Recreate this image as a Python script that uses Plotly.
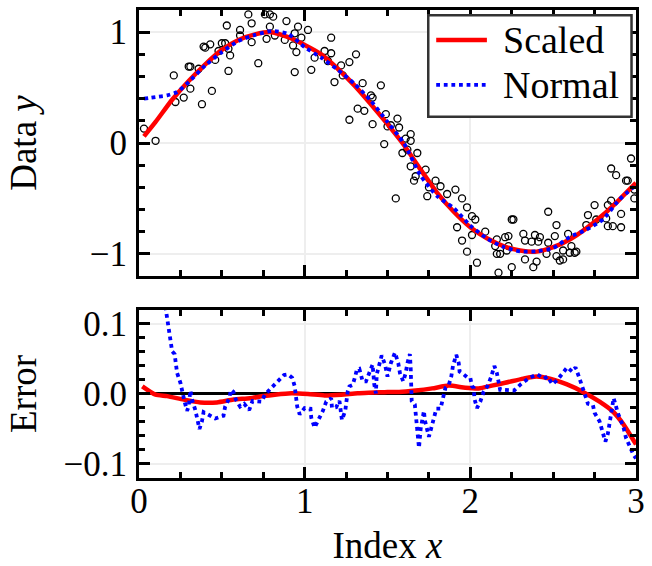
import plotly.graph_objects as go

# ---- observed samples -------------------------------------------------------
obs_x = [0.03, 0.10, 0.21, 0.22, 0.27, 0.30, 0.31, 0.31, 0.36, 0.38, 0.39, 0.40, 0.43, 0.44,
         0.46, 0.48, 0.50, 0.52, 0.53, 0.54, 0.55, 0.54, 0.61, 0.61, 0.66, 0.68, 0.68, 0.72,
         0.76, 0.79, 0.81, 0.79, 0.77, 0.82, 0.89, 0.88, 0.93, 0.95, 0.94, 0.94, 0.96, 0.98,
         1.02, 1.04, 1.06, 1.12, 1.14, 1.16, 1.16, 1.18, 1.22, 1.23, 1.27, 1.31, 1.35, 1.32,
         1.36, 1.27, 1.40, 1.41, 1.41, 1.46, 1.48, 1.50, 1.49, 1.56, 1.57, 1.61, 1.64, 1.64,
         1.59, 1.62, 1.68, 1.64, 1.67, 1.66, 1.73, 1.75, 1.74, 1.79, 1.82, 1.86, 1.55, 1.91,
         1.95, 1.98, 2.01, 2.03, 1.92, 2.01, 1.95, 1.98, 2.09, 2.04, 2.16, 2.21, 2.15, 2.16,
         2.18, 2.23, 2.17, 2.25, 2.26, 2.23, 2.22, 2.25, 2.32, 2.33, 2.37, 2.39, 2.41, 2.42,
         2.33, 2.40, 2.38, 2.47, 2.47, 2.46, 2.52, 2.51, 2.52, 2.54, 2.56, 2.56, 2.59, 2.61,
         2.60, 2.63, 2.64, 2.71, 2.70, 2.75, 2.76, 2.82, 2.83, 2.83, 2.85, 2.86, 2.91, 2.91,
         2.85, 2.88, 2.94, 2.95, 2.97, 2.99, 2.99, 1.52]
obs_y = [0.13, 0.02, 0.61, 0.37, 0.41, 0.69, 0.69, 0.49, 0.67, 0.35, 0.87, 0.86, 0.89, 0.47,
         0.75, 0.83, 0.90, 0.90, 1.06, 0.65, 0.79, 0.85, 0.97, 1.02, 1.16, 1.08, 0.91, 0.72,
         1.16, 1.16, 1.14, 1.05, 0.94, 0.97, 1.10, 0.93, 0.88, 0.82, 0.64, 0.99, 1.05, 0.95,
         1.02, 0.66, 0.77, 0.83, 0.74, 0.95, 0.81, 0.55, 0.70, 0.61, 0.73, 0.80, 0.54, 0.31,
         0.29, 0.21, 0.43, 0.41, 0.17, 0.52, -0.01, 0.15, 0.26, 0.22, 0.14, 0.04, 0.08, 0.02,
         -0.09, -0.06, -0.09, -0.21, -0.30, -0.34, -0.24, -0.40, -0.48, -0.34, -0.39, -0.46, -0.50, -0.42,
         -0.50, -0.58, -0.66, -0.69, -0.76, -0.83, -0.88, -0.98, -0.80, -1.08, -0.87, -0.85, -0.93, -1.00,
         -1.00, -0.93, -1.17, -0.69, -0.69, -0.84, -0.97, -1.12, -0.82, -0.88, -0.89, -0.83, -0.89, -0.85,
         -1.05, -1.07, -1.12, -0.62, -0.90, -1.00, -0.74, -0.84, -1.02, -1.06, -1.05, -0.97, -0.82, -0.93,
         -0.99, -0.99, -0.98, -0.65, -0.74, -0.56, -0.69, -0.68, -0.75, -0.56, -0.52, -0.75, -0.64, -0.76,
         -0.23, -0.29, -0.34, -0.34, -0.14, -0.42, -0.50, 0.16]

# ---- fitted curves (upper panel) --------------------------------------------
fit_x_scaled = [0.03, 0.1, 0.2, 0.3, 0.4, 0.5, 0.6, 0.7, 0.8, 0.9, 1.0, 1.1, 1.2, 1.3, 1.4, 1.5,
                1.6, 1.7, 1.8, 1.9, 2.0, 2.1, 2.2, 2.3, 2.4, 2.5, 2.6, 2.7, 2.8, 2.9, 3.0]
fit_scaled = [0.06, 0.19, 0.39, 0.56, 0.71, 0.84, 0.93, 0.98, 1.00, 0.955, 0.885, 0.80, 0.67,
              0.52, 0.35, 0.17, -0.02, -0.24, -0.45, -0.62, -0.76, -0.86, -0.93, -0.97, -0.98,
              -0.94, -0.87, -0.77, -0.65, -0.51, -0.36]

fit_x_normal = [0.03, 0.1, 0.17, 0.23, 0.3, 0.4, 0.5, 0.6, 0.7, 0.8, 0.9, 1.0, 1.1, 1.2, 1.3,
                1.4, 1.5, 1.6, 1.7, 1.8, 1.9, 2.0, 2.1, 2.2, 2.3, 2.4, 2.5, 2.6, 2.7, 2.8, 2.9, 3.0]
fit_normal = [0.40, 0.415, 0.43, 0.46, 0.55, 0.70, 0.82, 0.92, 0.975, 1.01, 0.985, 0.865, 0.77,
              0.66, 0.535, 0.38, 0.19, -0.005, -0.295, -0.48, -0.587, -0.745, -0.86, -0.938,
              -0.978, -0.977, -0.948, -0.848, -0.782, -0.69, -0.51, -0.38]

# ---- errors (lower panel) ---------------------------------------------------
err_x_scaled = [0.02, 0.1, 0.17, 0.27, 0.37, 0.47, 0.57, 0.67, 0.75, 0.82, 0.92, 1.02, 1.12,
                1.22, 1.32, 1.42, 1.5, 1.57, 1.67, 1.77, 1.87, 1.97, 2.05, 2.13, 2.21, 2.32,
                2.40, 2.48, 2.58, 2.68, 2.78, 2.86, 2.92, 3.0]
err_scaled = [0.011, -0.001, -0.003, -0.008, -0.012, -0.012, -0.008, -0.006, -0.003, -0.001,
              0.001, 0.0, -0.002, -0.001, 0.001, 0.002, 0.003, 0.003, 0.005, 0.008, 0.012,
              0.009, 0.008, 0.012, 0.016, 0.022, 0.025, 0.022, 0.014, 0.003, -0.011, -0.025,
              -0.042, -0.072]

err_x_normal = [0.03, 0.10, 0.165, 0.177, 0.19, 0.20, 0.215, 0.22, 0.23, 0.25, 0.26, 0.275,
                0.29, 0.30, 0.31, 0.32, 0.34, 0.35, 0.365, 0.38, 0.39, 0.415, 0.46, 0.51,
                0.52, 0.545, 0.555, 0.57, 0.585, 0.61, 0.635, 0.665, 0.685, 0.74, 0.76, 0.80,
                0.835, 0.875, 0.90, 0.925, 0.94, 0.95, 0.955, 0.97, 1.00, 1.035, 1.04, 1.06,
                1.085, 1.11, 1.13, 1.16, 1.165, 1.19, 1.21, 1.22, 1.225, 1.245, 1.25, 1.26,
                1.27, 1.29, 1.305, 1.315, 1.33, 1.35, 1.37, 1.39, 1.41, 1.42, 1.43, 1.435,
                1.45, 1.465, 1.485, 1.50, 1.52, 1.545, 1.565, 1.575, 1.595, 1.61, 1.62, 1.635,
                1.64, 1.642, 1.644, 1.646, 1.665, 1.67, 1.68, 1.685, 1.69, 1.70, 1.72, 1.725,
                1.74, 1.75, 1.765, 1.78, 1.795, 1.82, 1.835, 1.85, 1.87, 1.885, 1.895, 1.915,
                1.93, 1.935, 1.96, 1.98, 2.00, 2.01, 2.02, 2.025, 2.04, 2.06, 2.08, 2.105,
                2.125, 2.145, 2.16, 2.17, 2.18, 2.205, 2.24, 2.265, 2.305, 2.355, 2.405, 2.445,
                2.465, 2.495, 2.525, 2.555, 2.585, 2.615, 2.635, 2.655, 2.675, 2.695, 2.71,
                2.74, 2.75, 2.78, 2.80, 2.815, 2.83, 2.845, 2.855, 2.865, 2.875, 2.89, 2.91,
                2.925, 2.94, 2.965, 2.985, 3.0]
err_normal = [0.34, 0.21, 0.116, 0.099, 0.080, 0.061, 0.057, 0.046, 0.030, 0.016, 0.003, -0.011,
              -0.024, -0.018, 0.005, -0.008, -0.023, -0.035, -0.050, -0.039, -0.026, -0.029,
              -0.035, -0.031, -0.018, -0.006, 0.006, 0.003, -0.008, -0.018, -0.014, -0.023,
              -0.010, -0.011, -0.001, 0.009, 0.018, 0.027, 0.028, 0.023, 0.011, -0.003, -0.018,
              -0.029, -0.020, -0.021, -0.034, -0.048, -0.037, -0.024, -0.011, -0.006, -0.020,
              -0.019, -0.010, -0.024, -0.037, -0.024, -0.011, 0.004, 0.011, 0.013, 0.025, 0.035,
              0.036, 0.018, 0.018, 0.030, 0.042, 0.014, 0.001, 0.028, 0.042, 0.055, 0.042, 0.025,
              0.044, 0.059, 0.044, 0.030, 0.018, 0.030, 0.044, 0.057, 0.037, 0.019, 0.005, -0.010,
              -0.015, -0.030, -0.043, -0.061, -0.077, -0.050, -0.024, -0.037, -0.054, -0.061,
              -0.048, -0.034, -0.021, -0.021, -0.006, 0.009, 0.013, 0.025, 0.040, 0.056, 0.044,
              0.032, 0.028, 0.024, 0.023, 0.011, 0.009, -0.007, -0.020, -0.011, 0.003, 0.012,
              0.024, 0.040, 0.030, 0.016, 0.006, 0.006, 0.006, 0.005, 0.014, 0.023, 0.028, 0.022,
              0.025, 0.014, 0.020, 0.030, 0.038, 0.032, 0.038, 0.025, 0.012, -0.003, -0.014,
              -0.016, -0.027, -0.039, -0.054, -0.068, -0.057, -0.037, -0.018, -0.006, -0.014,
              -0.027, -0.039, -0.048, -0.063, -0.077, -0.087, -0.092]

# ---- tick labels ------------------------------------------------------------
x_ticks = [0, 1, 2, 3]
x_ticktext = ["0", "1", "2", "3"]
y_ticks = [-1, 0, 1]
y_ticktext = ["\u22121", "0", "1"]
e_ticks = [-0.1, 0.0, 0.1]
e_ticktext = ["\u22120.1", "0.0", "0.1"]

legend_labels = ["Scaled", "Normal"]

RED = "#ff0000"
BLUE = "#0000ff"
FONT = "Liberation Serif"

fig = go.Figure()

fig.add_trace(go.Scatter(x=obs_x, y=obs_y, mode="markers", xaxis="x", yaxis="y",
                         marker=dict(symbol="circle-open", size=7, color="black",
                                     line=dict(width=1.3, color="black")),
                         showlegend=False))
fig.add_trace(go.Scatter(x=fit_x_scaled, y=fit_scaled, mode="lines", xaxis="x", yaxis="y",
                         line=dict(color=RED, width=4.5, shape="spline", smoothing=0.6),
                         showlegend=False))
fig.add_trace(go.Scatter(x=fit_x_normal, y=fit_normal, mode="lines", xaxis="x", yaxis="y",
                         line=dict(color=BLUE, width=3.8, dash="dot", shape="spline", smoothing=0.6),
                         showlegend=False))
fig.add_trace(go.Scatter(x=err_x_scaled, y=err_scaled, mode="lines", xaxis="x2", yaxis="y2",
                         line=dict(color=RED, width=4.5, shape="spline", smoothing=0.6),
                         showlegend=False))
fig.add_trace(go.Scatter(x=err_x_normal, y=err_normal, mode="lines", xaxis="x2", yaxis="y2",
                         line=dict(color=BLUE, width=3.8, dash="dot"),
                         showlegend=False))

frame = dict(showline=True, linecolor="black", linewidth=3, mirror="ticks",
             ticks="inside", tickcolor="black", tickwidth=2.5, ticklen=11,
             showgrid=True, gridcolor="#eeeeee", gridwidth=1.5, zeroline=False,
             automargin=False,
             tickfont=dict(family=FONT, size=35, color="black"))

fig.update_layout(
    width=652, height=566,
    margin=dict(l=139, r=16, t=10, b=88),
    paper_bgcolor="white", plot_bgcolor="white",
    font=dict(family=FONT, color="black"),
    showlegend=False,
    xaxis=dict(domain=[0, 1], range=[0, 3], anchor="y", tickvals=x_ticks, showticklabels=False,
               minor=dict(dtick=0.25, ticks="inside", ticklen=6, tickwidth=2.5, tickcolor="black",
                          showgrid=False), **frame),
    yaxis=dict(domain=[0.4316, 1], range=[-1.2, 1.2], anchor="x", tickvals=y_ticks,
               ticktext=y_ticktext, ticklabelstandoff=2,
               title=dict(text="Data <i>y</i>", font=dict(family=FONT, size=37), standoff=42),
               minor=dict(dtick=0.2, ticks="inside", ticklen=6, tickwidth=2.5, tickcolor="black",
                          showgrid=False), **frame),
    xaxis2=dict(domain=[0, 1], range=[0, 3], anchor="y2", tickvals=x_ticks, ticktext=x_ticktext,
                ticklabelstandoff=-10,
                title=dict(text="Index <i>x</i>", font=dict(family=FONT, size=37), standoff=30),
                minor=dict(dtick=0.25, ticks="inside", ticklen=6, tickwidth=2.5, tickcolor="black",
                           showgrid=False), **frame),
    yaxis2=dict(domain=[0, 0.359], range=[-0.12, 0.12], anchor="x2", tickvals=e_ticks,
                ticktext=e_ticktext, ticklabelstandoff=2,
                title=dict(text="Error", font=dict(family=FONT, size=37), standoff=16),
                minor=dict(dtick=0.02, ticks="inside", ticklen=6, tickwidth=2.5, tickcolor="black",
                           showgrid=False), **frame),
)
fig.update_yaxes(zeroline=True, zerolinecolor="black", zerolinewidth=2.5, selector=dict(anchor="x2"))

# legend box drawn in paper coordinates
fig.add_shape(type="rect", xref="paper", yref="paper", x0=0.582, x1=0.991, y0=0.772, y1=0.989,
              line=dict(color="#333333", width=2.5), fillcolor="white", layer="above")
legend_rows = [(0.936, RED, "solid", 4.5), (0.840, BLUE, "dot", 3.8)]
for label, (yy, col, dash, w) in zip(legend_labels, legend_rows):
    fig.add_shape(type="line", xref="paper", yref="paper", x0=0.598, x1=0.700, y0=yy, y1=yy,
                  line=dict(color=col, width=w, dash=dash), layer="above")
    fig.add_annotation(xref="paper", yref="paper", x=0.728, y=yy, text=label, showarrow=False,
                       xanchor="left", yanchor="middle",
                       font=dict(family=FONT, size=38, color="black"))

fig.write_html("out.html")
